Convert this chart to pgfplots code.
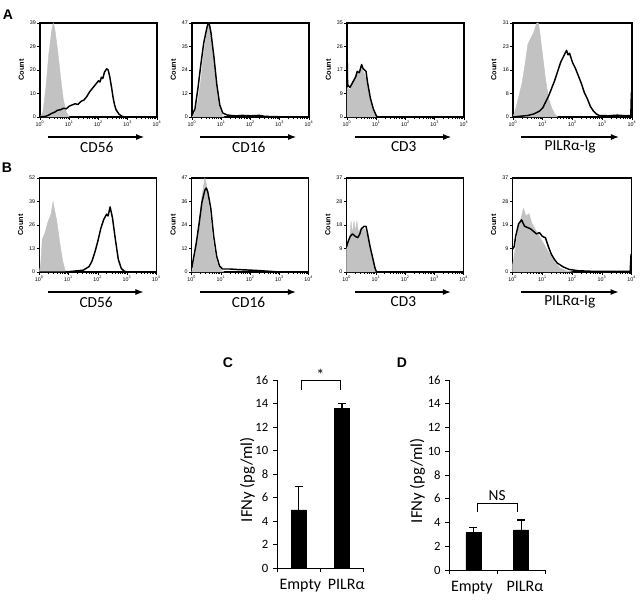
\documentclass[border=0pt]{standalone}
\usepackage{fontspec}
\setmainfont{Carlito}
\newfontfamily\arialfont{Liberation Sans}
\usepackage{pgfplots}
\pgfplotsset{compat=1.18}
\usetikzlibrary{arrows.meta}

\definecolor{hgray}{RGB}{194,194,194}

% flow cytometry histograms: x in log10 units, 0..4
% positions below are in pt (1 px of the reference = 0.75pt)
\pgfplotsset{
  hist/.style={
    scale only axis, width=87.75pt, height=70.5pt, anchor=south west,
    xmin=0, xmax=4, ymin=0, clip=false,
    xtick={0,1,2,3,4},
    xticklabels={10\textsuperscript{0},10\textsuperscript{1},10\textsuperscript{2},10\textsuperscript{3},10\textsuperscript{4}},
    minor xtick={0.301,0.477,0.602,0.699,0.778,0.845,0.903,0.954,
      1.301,1.477,1.602,1.699,1.778,1.845,1.903,1.954,
      2.301,2.477,2.602,2.699,2.778,2.845,2.903,2.954,
      3.301,3.477,3.602,3.699,3.778,3.845,3.903,3.954},
    tick pos=left, tick align=outside,
    major tick length=2pt, minor tick length=1.2pt,
    every tick/.style={black, line width=0.4pt},
    axis line style={line width=0.9pt},
    tick label style={font=\arialfont\fontsize{4}{4}\selectfont, inner sep=1pt},
    ylabel={Count},
    y label style={font=\arialfont\bfseries\fontsize{5.5}{6}\selectfont,
      at={(axis description cs:-0.16,0.5)}, anchor=center},
    x label style={font=\fontsize{11.5}{12}\selectfont,
      at={(axis description cs:0.485,-0.32)}, anchor=center},
    extra description/.code={
      \draw[line width=0.8pt, -{Latex[length=6pt,width=4.5pt]}]
        (axis description cs:0.07,-0.213) -- (axis description cs:0.89,-0.213);
    },
  },
  gfill/.style={fill=hgray, draw=hgray, line width=0.3pt},
  bline/.style={black, line width=1.1pt, line join=round},
  bars/.style={
    scale only axis, anchor=south west,
    xmin=0, xmax=2, ymin=0, ymax=16, ytick={0,2,...,16},
    axis x line=bottom, axis y line=left,
    axis line style={-, line width=0.6pt},
    tick align=outside, major tick length=3pt,
    every tick/.style={black, line width=0.6pt},
    xtick={0,1,2}, xticklabels={},
    extra x tick style={major tick length=0pt,
      tick label style={font=\fontsize{12}{12}\selectfont, yshift=-5pt}},
    extra x tick labels={Empty,PILRα},
    /pgf/number format/assume math mode=true,
    tick label style={font=\fontsize{9.5}{10}\selectfont},
    ylabel={IFNy (pg/ml)},
    y label style={font=\fontsize{12.5}{13}\selectfont, anchor=center},
    clip=false,
  },
  barplot/.style={ybar, bar width=11.25pt, fill=black, draw=black,
    error bars/.cd, y dir=plus, y explicit,
    error bar style={line width=0.8pt, black},
    error mark options={rotate=90, mark size=3pt, line width=0.8pt, black}},
}

\begin{document}
\begin{tikzpicture}
\useasboundingbox (0pt,0pt) rectangle (480pt,450pt);

\node[font=\arialfont\bfseries\fontsize{10.5}{11}\selectfont] at (6pt,438.75pt) {A};
\node[font=\arialfont\bfseries\fontsize{10.5}{11}\selectfont] at (5.25pt,324pt) {B};

% ---------- row A ----------
\begin{axis}[hist, at={(30pt,362.25pt)}, ymax=39,
  ytick={0,9.75,19.5,29.25,39}, yticklabels={0,10,20,29,39}, xlabel={CD56}]
\addplot[gfill] coordinates {(0,0) (0.1,2) (0.2,12) (0.3,26) (0.4,36) (0.45,39) (0.5,37)
  (0.6,28) (0.7,17) (0.8,7) (0.9,2) (1.0,0)} \closedcycle;
\addplot[bline] coordinates {(0,0) (0.2,0.3) (0.3,0.8) (0.4,1.5) (0.5,2) (0.6,2.8) (0.7,3)
  (0.8,3.6) (0.9,3.4) (1.0,4.5) (1.1,5) (1.2,5.5) (1.3,5.2) (1.4,6.5) (1.5,7) (1.6,8.5)
  (1.7,10.5) (1.8,12) (1.9,13.5) (2.0,15) (2.05,14.5) (2.1,16.5) (2.15,16) (2.2,18.5)
  (2.28,20) (2.33,19.5) (2.38,17) (2.45,12) (2.5,8) (2.55,5) (2.6,3) (2.7,1.2) (2.8,0.3)
  (2.9,0) (4,0)};
\end{axis}

\begin{axis}[hist, at={(144pt,362.25pt)}, ymax=47,
  ytick={0,11.75,23.5,35.25,47}, yticklabels={0,12,24,35,47}, xlabel={CD16}]
\addplot[gfill] coordinates {(0,0) (0.1,2) (0.2,8) (0.3,18) (0.4,32) (0.5,42) (0.57,47)
  (0.65,40) (0.75,26) (0.85,12) (0.95,4) (1.05,0.5) (1.1,0)} \closedcycle;
\addplot[bline] coordinates {(0,1) (0.1,4) (0.2,14) (0.3,26) (0.4,37) (0.5,44) (0.55,47)
  (0.6,46) (0.65,42) (0.75,30) (0.85,16) (0.95,6) (1.05,2) (1.2,1) (1.5,0.5) (1.7,0.8)
  (2.0,0.6) (2.3,0.8) (2.5,0.3) (3,0.1) (4,0)};
\end{axis}

\begin{axis}[hist, at={(260.25pt,362.25pt)}, ymax=35,
  ytick={0,8.75,17.5,26.25,35}, yticklabels={0,9,17,26,35}, xlabel={CD3}]
\addplot[gfill] coordinates {(0,11) (0.1,10) (0.2,13) (0.3,16) (0.4,17) (0.5,18) (0.6,16)
  (0.7,12) (0.8,6) (0.9,2) (1.0,0)} \closedcycle;
\addplot[bline] coordinates {(0,27) (0.02,12) (0.1,11) (0.2,13) (0.3,15) (0.35,17)
  (0.42,16.5) (0.5,19.5) (0.55,18) (0.65,17) (0.7,13) (0.8,7) (0.9,3) (1.0,0.5) (1.05,0)
  (4,0)};
\end{axis}

\begin{axis}[hist, at={(384.75pt,362.25pt)}, width=89.25pt, ymax=31,
  ytick={0,7.75,15.5,23.25,31}, yticklabels={0,8,16,23,31}, xlabel={PILRα-Ig},
  x label style={at={(axis description cs:0.48,-0.32)}}]
\addplot[gfill] coordinates {(0,0) (0.1,3) (0.2,7) (0.3,11) (0.4,17) (0.5,24) (0.6,26)
  (0.7,28) (0.8,31) (0.85,31) (0.9,28) (1.0,20) (1.1,12) (1.2,6) (1.3,3) (1.4,1) (1.5,0)}
  \closedcycle;
\addplot[bline] coordinates {(0,0) (0.5,0.5) (0.7,1) (0.9,2) (1.0,3) (1.2,7) (1.4,12)
  (1.5,15) (1.6,18) (1.7,20) (1.8,22) (1.85,20.5) (1.9,21) (2.0,18) (2.1,16) (2.2,13.5)
  (2.3,11) (2.4,8) (2.5,6) (2.6,3.5) (2.7,2) (2.8,1) (2.9,0.5) (3.2,0.4) (3.5,0.6)
  (3.8,0.4) (3.96,0.5) (3.98,8) (4,8)};
\end{axis}

% ---------- row B ----------
\begin{axis}[hist, at={(29.5pt,246pt)}, ymax=52,
  ytick={0,13,26,39,52}, yticklabels={0,13,26,39,52}, xlabel={CD56}]
\addplot[gfill] coordinates {(0,0) (0.05,5) (0.1,18) (0.2,22) (0.3,28) (0.4,32) (0.47,39)
  (0.5,36) (0.6,28) (0.7,16) (0.8,6) (0.88,1) (0.95,0)} \closedcycle;
\addplot[bline] coordinates {(0,0) (0.9,0) (1.2,0.5) (1.5,1) (1.7,3) (1.8,6) (1.9,11)
  (2.0,17) (2.1,24) (2.2,29) (2.3,32) (2.35,31) (2.42,36) (2.5,30) (2.6,18) (2.7,7)
  (2.8,2) (2.9,0.5) (3,0) (4,0)};
\end{axis}

\begin{axis}[hist, at={(143.8pt,246pt)}, ymax=47,
  ytick={0,11.75,23.5,35.25,47}, yticklabels={0,12,24,36,47}, xlabel={CD16}]
\addplot[gfill] coordinates {(0,0) (0.05,3) (0.15,12) (0.25,25) (0.35,38) (0.45,47)
  (0.5,44) (0.6,32) (0.7,18) (0.8,8) (0.9,3) (1.0,1) (1.1,0)} \closedcycle;
\addplot[bline] coordinates {(0,2) (0.05,6) (0.15,14) (0.25,24) (0.35,35) (0.45,41)
  (0.5,42) (0.55,40) (0.65,32) (0.75,18) (0.85,8) (0.95,3) (1.05,1.5) (1.3,1.5) (1.6,1.2)
  (1.9,1) (2.2,0.8) (2.5,0.5) (2.8,0.2) (3,0) (4,0)};
\end{axis}

\begin{axis}[hist, at={(260pt,246pt)}, ymax=37,
  ytick={0,9.25,18.5,27.75,37}, yticklabels={0,9,18,28,37}, xlabel={CD3}]
\addplot[gfill] coordinates {(0,9) (0.05,11) (0.1,13) (0.15,20) (0.2,15) (0.25,20)
  (0.3,16) (0.35,20) (0.4,16) (0.5,17) (0.6,17) (0.7,15) (0.8,9) (0.9,4) (0.98,0.5)
  (1.02,0)} \closedcycle;
\addplot[bline] coordinates {(0,10) (0.05,12) (0.12,14) (0.2,15) (0.3,14) (0.38,13.5)
  (0.45,15) (0.5,17) (0.6,18) (0.66,18) (0.7,16) (0.75,13) (0.8,10) (0.9,5) (0.97,1.5)
  (1.02,0) (4,0)};
\end{axis}

\begin{axis}[hist, at={(384.5pt,246pt)}, width=89.25pt, ymax=37,
  ytick={0,9.25,18.5,27.75,37}, yticklabels={0,9,19,28,37}, xlabel={PILRα-Ig},
  x label style={at={(axis description cs:0.48,-0.32)}}]
\addplot[gfill] coordinates {(0,3) (0.1,10) (0.2,18) (0.3,22) (0.36,25) (0.45,22)
  (0.55,23) (0.65,19) (0.8,16) (1.0,12) (1.2,8) (1.4,4) (1.6,1.5) (1.8,0.5) (2.0,0)}
  \closedcycle;
\addplot[bline] coordinates {(0,9) (0.05,10) (0.1,14) (0.2,19) (0.3,20.5) (0.4,18)
  (0.5,17.5) (0.6,17) (0.7,16) (0.8,15) (0.9,15.5) (1.0,14) (1.1,13.5) (1.2,10) (1.3,7)
  (1.4,5) (1.5,3.5) (1.7,2) (1.9,1) (2.2,0.5) (2.6,0.3) (3.0,0.3) (3.5,0.2) (3.95,0.3)
  (3.98,7) (4,7)};
\end{axis}

% ---------- bar charts ----------
\node[font=\arialfont\bfseries\fontsize{10.5}{11}\selectfont] at (171pt,177.75pt) {C};
\node[font=\arialfont\bfseries\fontsize{10.5}{11}\selectfont] at (301.5pt,177.75pt) {D};

\begin{axis}[bars, at={(207.75pt,24pt)}, width=65pt, height=141pt,
  extra x ticks={0.54,1.6},
  y label style={at={(axis description cs:-0.34,0.47)}}]
\addplot[barplot] coordinates {(0.5,4.94) +- (0,1.98) (1.5,13.6) +- (0,0.4)};
\draw[line width=0.7pt] (axis cs:0.56,15.15) -- (axis cs:0.56,15.95)
  -- (axis cs:1.46,15.95) -- (axis cs:1.46,15.15);
\node[font=\fontsize{12}{12}\selectfont] at (axis cs:1.0,16.45) {*};
\end{axis}

\begin{axis}[bars, at={(337pt,22.5pt)}, width=71.8pt, height=142.5pt,
  extra x ticks={0.47,1.58},
  y label style={at={(axis description cs:-0.334,0.47)}}]
\addplot[barplot] coordinates {(0.5,3.14) +- (0,0.4) (1.5,3.37) +- (0,0.84)};
\draw[line width=0.7pt] (axis cs:0.59,4.9) -- (axis cs:0.59,5.6)
  -- (axis cs:1.42,5.6) -- (axis cs:1.42,4.9);
\node[font=\fontsize{11.5}{12}\selectfont] at (axis cs:1.0,6.3) {NS};
\end{axis}
\end{tikzpicture}
\end{document}
